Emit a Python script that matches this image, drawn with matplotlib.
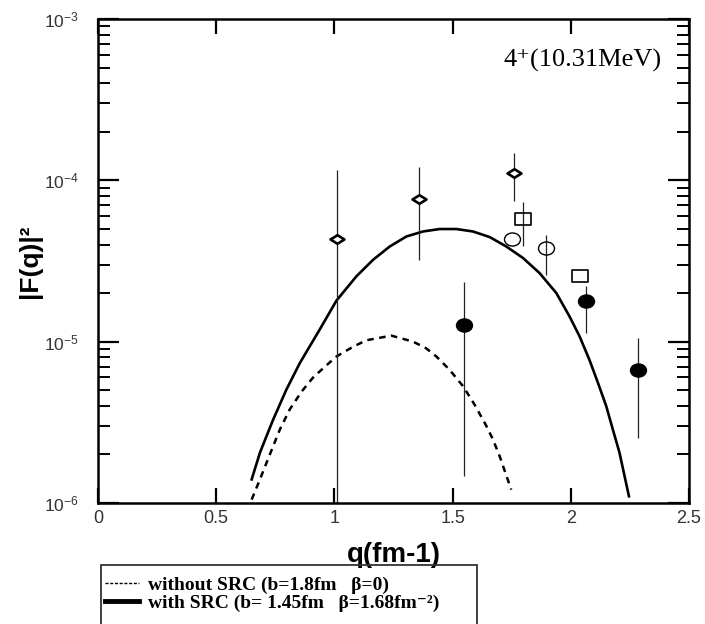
import numpy as np
import matplotlib
matplotlib.use("Agg")
import matplotlib.pyplot as plt
from matplotlib.path import Path
from matplotlib.transforms import Affine2D
from matplotlib.lines import Line2D
from matplotlib.patches import Rectangle
from matplotlib.ticker import LogLocator, NullFormatter, NullLocator

plt.rcParams["font.family"] = ["Liberation Sans", "DejaVu Sans"]
plt.rcParams["mathtext.default"] = "regular"

# ---------------- data ----------------
# theory curves
q_src = [0.650, 0.685, 0.713, 0.741, 0.797, 0.854, 0.938, 1.009, 1.093, 1.164,
         1.234, 1.305, 1.375, 1.445, 1.516, 1.586, 1.657, 1.727, 1.798, 1.868,
         1.939, 1.995, 2.037, 2.079, 2.115, 2.150, 2.178, 2.206, 2.246]
f_src = [1.40e-6, 2.05e-6, 2.60e-6, 3.29e-6, 5.05e-6, 7.38e-6, 1.19e-5, 1.80e-5, 2.54e-5, 3.22e-5,
         3.89e-5, 4.49e-5, 4.82e-5, 4.99e-5, 4.99e-5, 4.82e-5, 4.45e-5, 3.89e-5, 3.30e-5, 2.66e-5,
         2.00e-5, 1.43e-5, 1.08e-5, 7.7e-6, 5.55e-6, 3.98e-6, 2.85e-6, 2.05e-6, 1.10e-6]

q_nosrc = [0.650, 0.685, 0.727, 0.769, 0.811, 0.861, 0.910, 0.960, 1.009, 1.079,
           1.135, 1.241, 1.333, 1.388, 1.431, 1.487, 1.544, 1.593, 1.643, 1.671,
           1.699, 1.748]
f_nosrc = [1.05e-6, 1.40e-6, 2.0e-6, 2.85e-6, 3.8e-6, 4.9e-6, 6.0e-6, 7.0e-6, 8.1e-6, 9.3e-6,
           1.02e-5, 1.09e-5, 1.0e-5, 9.1e-6, 8.1e-6, 6.7e-6, 5.3e-6, 4.07e-6, 3.0e-6, 2.47e-6,
           1.95e-6, 1.21e-6]

# experimental points: value, lower end, upper end of error bar
q_diam = [1.012, 1.357, 1.758]
f_diam = [4.35e-5, 7.7e-5, 1.11e-4]
lo_diam = [5e-7, 3.2e-5, 7.4e-5]
hi_diam = [1.16e-4, 1.21e-4, 1.48e-4]

q_sq = [1.797, 2.040]
f_sq = [5.78e-5, 2.54e-5]
lo_sq = [3.9e-5, 2.54e-5]
hi_sq = [7.36e-5, 2.54e-5]

q_oc = [1.750, 1.896]
f_oc = [4.3e-5, 3.8e-5]
lo_oc = [4.3e-5, 2.6e-5]
hi_oc = [4.3e-5, 4.6e-5]

q_fc = [1.547, 2.066, 2.285]
f_fc = [1.27e-5, 1.78e-5, 6.7e-6]
lo_fc = [1.48e-6, 1.13e-5, 2.54e-6]
hi_fc = [2.33e-5, 2.2e-5, 1.05e-5]

xticks = [0, 0.5, 1, 1.5, 2, 2.5]
xticklabels = ["0", "0.5", "1", "1.5", "2", "2.5"]
yticks = [1e-6, 1e-5, 1e-4, 1e-3]
yticklabels = [r"$10^{-6}$", r"$10^{-5}$", r"$10^{-4}$", r"$10^{-3}$"]

labels = ["without SRC (b=1.8fm   β=0)", "with SRC (b= 1.45fm   β=1.68fm⁻²)"]

# ---------------- markers ----------------
diamond = Path([(-1, 0), (0, 0.62), (1, 0), (0, -0.62), (-1, 0)], closed=True)
rect = Path([(-1, -0.73), (1, -0.73), (1, 0.73), (-1, 0.73), (-1, -0.73)], closed=True)
ellipse = Path.unit_circle().transformed(Affine2D().scale(1, 0.82))

fig = plt.figure(figsize=(7.05, 6.24), dpi=100)
ax = fig.add_axes([98 / 705, 1 - 503 / 624, 591 / 705, 484 / 624])

ax.plot(q_src, f_src, color="black", lw=1.9, solid_joinstyle="round")
ax.plot(q_nosrc, f_nosrc, color="black", lw=1.8, ls=(0, (2.6, 2.2)))


def err(f, lo, hi):
    f = np.array(f)
    return [f - np.array(lo), np.array(hi) - f]


for q, f, lo, hi in [(q_diam, f_diam, lo_diam, hi_diam), (q_sq, f_sq, lo_sq, hi_sq),
                     (q_oc, f_oc, lo_oc, hi_oc), (q_fc, f_fc, lo_fc, hi_fc)]:
    ax.errorbar(q, f, yerr=err(f, lo, hi), fmt="none", ecolor="#222222", elinewidth=0.9, capsize=0)

ax.plot(q_diam, f_diam, ls="none", marker=diamond, ms=10, mfc="white", mec="black", mew=1.9)
ax.plot(q_sq, f_sq, ls="none", marker=rect, ms=11, mfc="none", mec="black", mew=1.2)
ax.plot(q_oc, f_oc, ls="none", marker=ellipse, ms=11.5, mfc="none", mec="black", mew=1.0)
ax.plot(q_fc, f_fc, ls="none", marker=ellipse, ms=11.5, mfc="black", mec="black", mew=1.0)

ax.set_yscale("log")
ax.set_xlim(0, 2.5)
ax.set_ylim(1e-6, 1e-3)
ax.set_xticks(xticks, xticklabels)
ax.set_yticks(yticks, yticklabels)
ax.xaxis.set_minor_locator(NullLocator())
ax.yaxis.set_minor_locator(LogLocator(base=10, subs=np.arange(2, 10)))
ax.yaxis.set_minor_formatter(NullFormatter())

for s in ax.spines.values():
    s.set_linewidth(1.8)
ax.tick_params(which="both", direction="in", top=True, right=True, width=1.6, colors="black",
               labelcolor="#333333")
ax.tick_params(axis="x", which="major", length=11, labelsize=13, pad=5)
ax.tick_params(axis="y", which="major", length=15, labelsize=12.5, pad=14)
ax.tick_params(axis="y", which="minor", length=8.5, width=1.4)

ax.set_xlabel("q(fm-1)", fontsize=20, fontweight="bold", labelpad=11)
ax.set_ylabel("|F(q)|²", fontsize=19, fontweight="bold", labelpad=1)

ax.text(0.954, 0.915, "4⁺(10.31MeV)", transform=ax.transAxes, ha="right", va="center",
        fontsize=19, family=["Liberation Serif", "DejaVu Serif"])

# legend box below the axes (runs off the bottom of the figure)
fig.add_artist(Rectangle((101 / 705, -0.1), 376 / 705, 59 / 624 + 0.1, transform=fig.transFigure,
                         fill=False, ec="#333333", lw=1.3))
handles = [Line2D([], [], color="black", lw=1.0, ls=(0, (2.2, 1.2))),
           Line2D([], [], color="black", lw=3.5)]
fig.legend(handles, labels, loc="upper left", bbox_to_anchor=(103 / 705, 1 - 574 / 624),
           frameon=False, borderaxespad=0, borderpad=0.1, handlelength=1.75, handletextpad=0.45,
           labelspacing=0.05, prop={"family": ["Liberation Serif", "DejaVu Serif"],
                                    "weight": "bold", "size": 14})

fig.savefig("out.png", dpi=100)
